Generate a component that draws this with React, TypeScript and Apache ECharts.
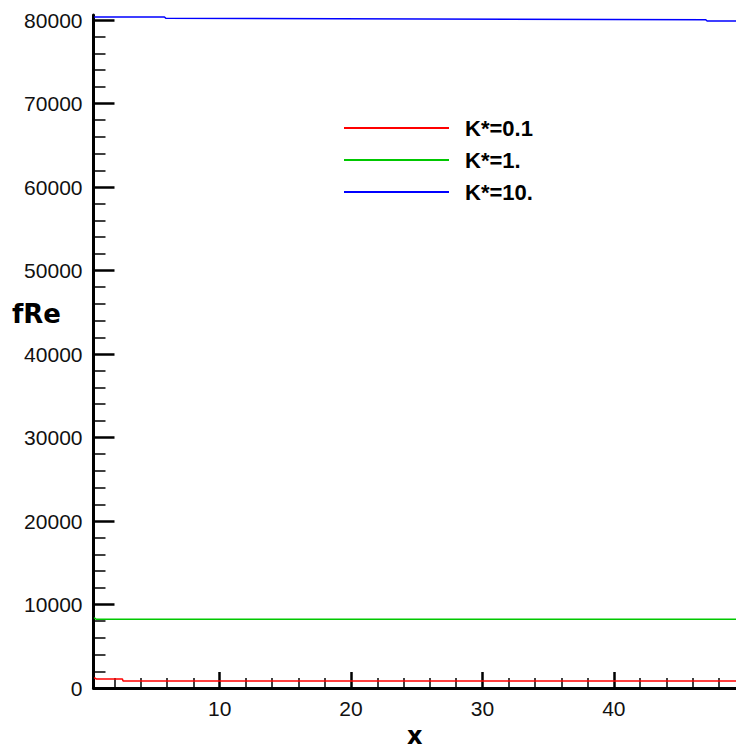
import React, { useEffect, useRef } from "react";
import * as echarts from "echarts";

// ---- data ----
const seriesNames = ["K*=0.1", "K*=1.", "K*=10."];
const xRed = [0.45, 0.6, 2.6, 2.65, 49.3];
const redValues = [1250, 1080, 1080, 840, 840];
const xGreen = [0.45, 0.6, 49.3];
const greenValues = [8420, 8230, 8230];
const xBlue = [0.45, 5.8, 5.9, 47.0, 47.1, 49.3];
const blueValues = [80360, 80360, 80200, 80030, 79880, 79880];

const xMajorTicks = [10, 20, 30, 40];
const xMinorTicks = [2, 4, 6, 8, 12, 14, 16, 18, 22, 24, 26, 28, 32, 34, 36, 38, 42, 44, 46, 48];
const yMajorTicks = [0, 10000, 20000, 30000, 40000, 50000, 60000, 70000, 80000];
const yMinorTicks: number[] = [];
for (const v of [2000, 4000, 6000, 8000]) {
  for (const m of yMajorTicks.slice(0, 8)) yMinorTicks.push(m + v);
}

const X_MIN = 0.4;
const X_MAX = 49.3;
const Y_MIN = 0;
const Y_MAX = 80600;

const colors = ["#ff0000", "#00c800", "#0000ff"];

const zip = (xs: number[], ys: number[]) => xs.map((x, i) => [x, ys[i]]);

export default function App() {
  const ref = useRef<HTMLDivElement>(null);
  useEffect(() => {
    if (!ref.current) return;
    const chart = echarts.init(ref.current, null, { renderer: "svg" });
    const labelFont = "Liberation Sans";
    const option: any = {
      animation: false,
      backgroundColor: "#ffffff",
      grid: { left: 93.5, right: 0, top: 15, bottom: 61, containLabel: false, outerBoundsMode: "none" },
      legend: {
        orient: "vertical",
        left: 344,
        top: 117,
        padding: 0,
        itemWidth: 105,
        itemHeight: 2,
        itemGap: 10,
        icon: "rect",
        data: seriesNames,
        textStyle: {
          fontFamily: labelFont,
          fontWeight: "bold",
          fontSize: 22,
          color: "#000",
          padding: [0, 0, 0, 11],
        },
      },
      xAxis: [
        {
          type: "value",
          min: X_MIN,
          max: X_MAX,
          position: "bottom",
          name: "x",
          nameLocation: "middle",
          nameGap: 34,
          nameTextStyle: { fontFamily: "DejaVu Sans", fontWeight: "bold", fontSize: 24, color: "#000" },
          axisLine: { show: true, onZero: false, lineStyle: { color: "#000", width: 3 } },
          axisTick: { show: true, inside: true, length: 16, customValues: xMajorTicks, lineStyle: { color: "#000", width: 2.5 } },
          axisLabel: {
            customValues: xMajorTicks,
            formatter: (v: number) => String(v),
            fontFamily: labelFont,
            fontSize: 21,
            color: "#111",
            margin: 10,
          },
          splitLine: { show: false },
        },
        {
          type: "value",
          min: X_MIN,
          max: X_MAX,
          position: "bottom",
          axisLine: { show: false, onZero: false },
          axisTick: { show: true, inside: true, length: 10, customValues: xMinorTicks, lineStyle: { color: "#000", width: 1.5 } },
          axisLabel: { show: false },
          splitLine: { show: false },
        },
      ],
      yAxis: [
        {
          type: "value",
          min: Y_MIN,
          max: Y_MAX,
          position: "left",
          axisLine: { show: true, onZero: false, lineStyle: { color: "#000", width: 3 } },
          axisTick: { show: true, inside: true, length: 21, customValues: yMajorTicks, lineStyle: { color: "#000", width: 2.5 } },
          axisLabel: {
            customValues: yMajorTicks,
            formatter: (v: number) => String(v),
            fontFamily: labelFont,
            fontSize: 21,
            color: "#111",
            margin: 11,
          },
          splitLine: { show: false },
        },
        {
          type: "value",
          min: Y_MIN,
          max: Y_MAX,
          position: "left",
          axisLine: { show: false, onZero: false },
          axisTick: { show: true, inside: true, length: 12, customValues: yMinorTicks, lineStyle: { color: "#000", width: 1.5 } },
          axisLabel: { show: false },
          splitLine: { show: false },
        },
      ],
      graphic: [
        {
          type: "text",
          left: 12,
          top: 301,
          style: { text: "fRe", fontFamily: "DejaVu Sans", fontWeight: "bold", fontSize: 26, fill: "#000" },
        },
      ],
      series: [
        { name: seriesNames[0], data: zip(xRed, redValues), color: colors[0] },
        { name: seriesNames[1], data: zip(xGreen, greenValues), color: colors[1] },
        { name: seriesNames[2], data: zip(xBlue, blueValues), color: colors[2] },
      ].map((s) => ({
        type: "line",
        name: s.name,
        data: s.data,
        xAxisIndex: 0,
        yAxisIndex: 0,
        symbol: "none",
        itemStyle: { color: s.color },
        lineStyle: { color: s.color, width: 1.5 },
      })),
    };
    chart.setOption(option);
    return () => chart.dispose();
  }, []);
  return (
    <div
      ref={ref}
      style={{ position: "absolute", left: 0, top: 0, width: 736, height: 749, background: "#fff" }}
    />
  );
}
